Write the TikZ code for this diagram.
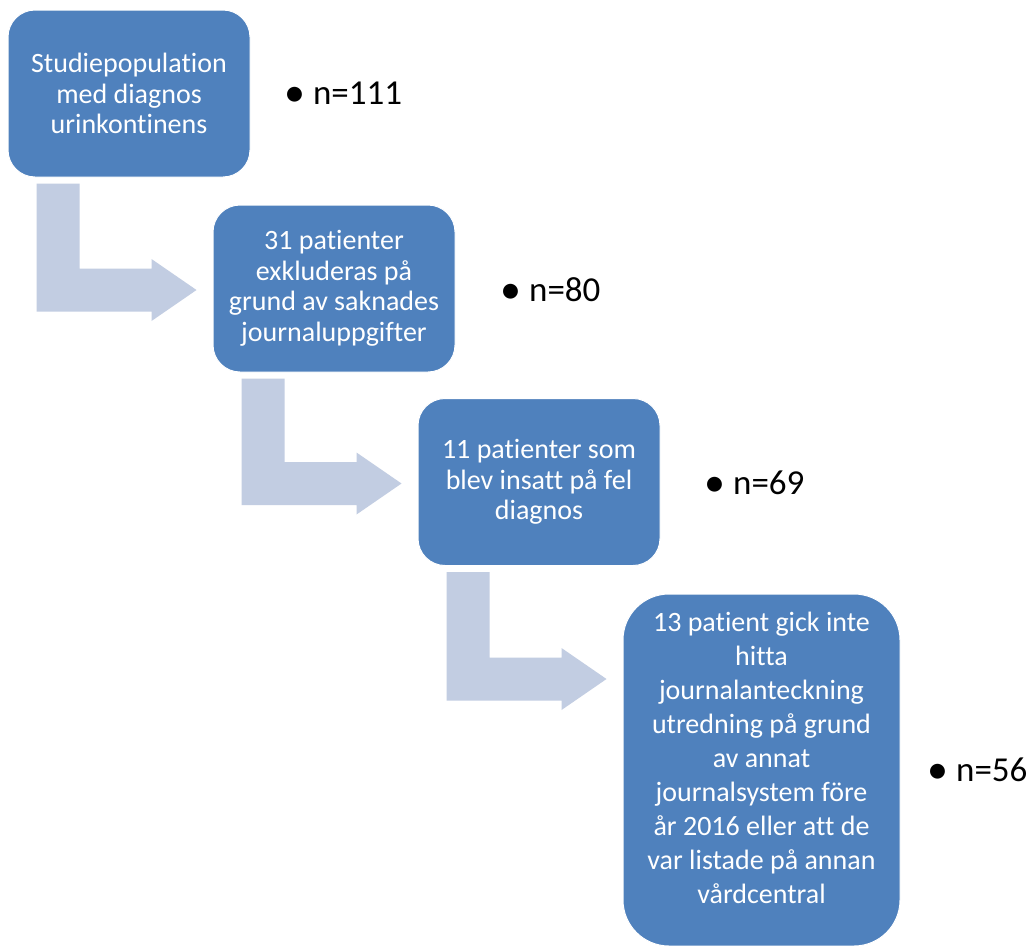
\documentclass[tikz,border=0pt]{standalone}
\usepackage{fontspec}
\setmainfont[Ligatures=NoCommon,RawFeature={-liga;-dlig}]{Carlito}
\usetikzlibrary{calc}
\definecolor{boxblue}{HTML}{4F81BD}
\definecolor{arrowblue}{HTML}{C2CDE2}
\newcommand{\lbentarrow}[2]{%
  \coordinate (s) at ($(#1.south west)+(29,6)$);
  \coordinate (t) at ($(#2.north west)+(-16,85.5)$);
  \fill[bentarrow] (s) -- ++(43,0) -- ($(s |- t)+(43,-21.5)$) -- ($(t)+(-45,-21.5)$)
    -- ($(t)+(-45,-31)$) -- (t) -- ($(t)+(-45,31)$) -- ($(t)+(-45,21.5)$)
    -- ($(s |- t)+(0,21.5)$) -- cycle;
}
\newcommand{\bigbullet}{\raisebox{-2pt}{\fontsize{42}{40}\selectfont•}}
\begin{document}
\begin{tikzpicture}[x=1pt,y=-1pt,
  stepbox/.style={fill=boxblue, draw=white, line width=1pt, rounded corners=27pt,
    minimum width=242pt, minimum height=167pt, text=white, align=center,
    font=\fontsize{28}{30.5}\selectfont, inner sep=0pt},
  bigbox/.style={stepbox, minimum width=277pt, minimum height=352pt, rounded corners=46pt},
  boxtext/.style={text=white, align=center, font=\fontsize{28}{34}\selectfont, inner sep=0pt},
  countlabel/.style={anchor=base west, font=\fontsize{35}{40}\selectfont, inner sep=0pt},
  bentarrow/.style={fill=arrowblue, draw=none}]
\useasboundingbox (0,0) rectangle (1030,945);
\fill[white] (0,0) rectangle (1030,945);

\node[stepbox] (b1) at (129,93.5) {Studiepopulation\\med diagnos\\urinkontinens};
\node[stepbox] (b2) at (334,288.5) {31 patienter\\exkluderas på\\grund av saknades\\journaluppgifter};
\node[stepbox] (b3) at (539,482) {11 patienter som\\blev insatt på fel\\diagnos};
\node[bigbox] (b4) at (761.5,770) {};
\node[boxtext] (b4t) at (761.5,758) {13 patient gick inte\\hitta\\journalanteckning\\utredning på grund\\av annat\\journalsystem före\\år 2016 eller att de\\var listade på annan\\vårdcentral};

\lbentarrow{b1}{b2}
\lbentarrow{b2}{b3}
\lbentarrow{b3}{b4}

\node[countlabel] (n1) at (284,104) {\bigbullet\hspace{8pt}n=111};
\node[countlabel] (n2) at (500,301) {\bigbullet\hspace{8pt}n=80};
\node[countlabel] (n3) at (704,494) {\bigbullet\hspace{8pt}n=69};
\node[countlabel] (n4) at (927,781) {\bigbullet\hspace{8pt}n=56};
\end{tikzpicture}
\end{document}
